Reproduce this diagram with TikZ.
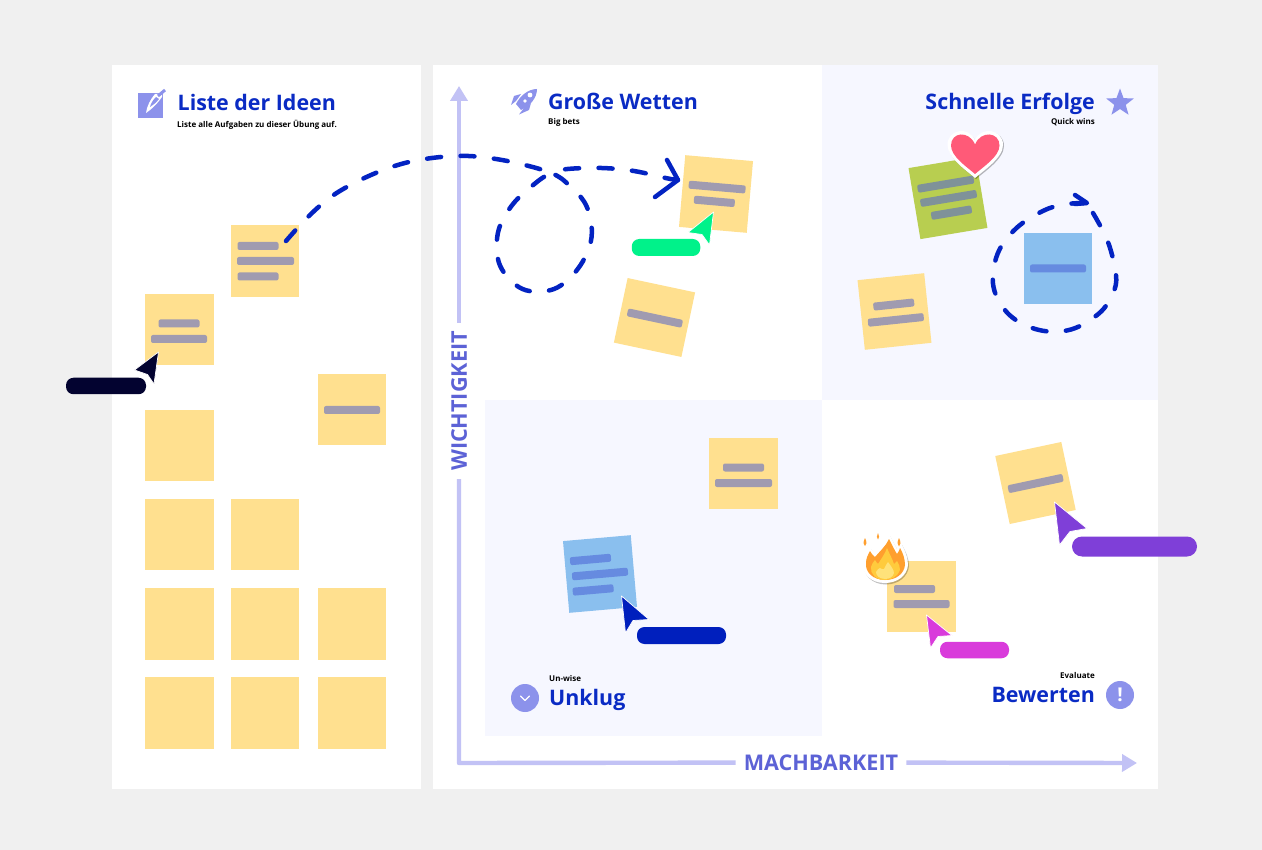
\documentclass[tikz,border=0pt]{standalone}
\usepackage{fontspec}
\setmainfont{Open Sans}
\usetikzlibrary{arrows.meta,shapes.geometric}
\definecolor{pagebg}{HTML}{F0F0F0}
\definecolor{quad}{HTML}{F6F7FF}
\definecolor{ttl}{HTML}{0A2BC4}
\definecolor{flow}{HTML}{0323C2}
\definecolor{yel}{HTML}{FFE08F}
\definecolor{yelbar}{HTML}{A09BB0}
\definecolor{sky}{HTML}{8ABFEE}
\definecolor{skybar}{HTML}{668BE0}
\definecolor{olive}{HTML}{B8CE50}
\definecolor{olivebar}{HTML}{7F9299}
\definecolor{icon}{HTML}{8C92EB}
\definecolor{axisl}{HTML}{C2C2F5}
\definecolor{axist}{HTML}{5C62D6}
\definecolor{cnavy}{HTML}{030330}
\definecolor{cgreen}{HTML}{00F28A}
\definecolor{cblue}{HTML}{001FBD}
\definecolor{cmag}{HTML}{D93BDB}
\definecolor{cpur}{HTML}{7F3FD8}
\definecolor{HeartRed}{HTML}{FF5A78}
\definecolor{FireOrange}{HTML}{FF9F2E}
\definecolor{FireYellow}{HTML}{FFCB3D}
\definecolor{FirePale}{HTML}{FFE27A}
\tikzset{
  panel/.style={fill=white,draw=none},
  stickybox/.style={draw=none,inner sep=0pt,transform shape},
  barbox/.style={draw=none,inner sep=0pt,rounded corners=2pt,minimum height=8pt,transform shape},
  pill/.style={draw=none,inner sep=0pt,rounded corners=7.5pt},
  heading/.style={font=\fontsize{21.4}{26}\selectfont\bfseries,text=ttl,inner sep=0pt},
  sub/.style={font=\fontsize{8}{10}\selectfont\bfseries,text=black,inner sep=0pt},
  axisline/.style={draw=axisl,line width=4.4pt,line join=round},
  axislabel/.style={font=\fontsize{21.6}{26}\selectfont\bfseries,text=axist,inner sep=8pt,text depth=0pt},
  flowline/.style={draw=flow,line width=4.5pt,line cap=round,line join=round,dash pattern=on 14pt off 19.5pt},
  flowtip/.style={draw=flow,line width=4.5pt,line cap=round,line join=round},
  cursor/.style={draw=white,line width=0.7pt,line join=round}
}
% name, cx, cy, w, h, angle, fill, bar colour, bars dx/dy/len
\newcommand\stickynote[9]{%
  \begin{scope}[shift={(#2,#3)},rotate=#6]
    \node[stickybox,fill=#7,minimum width=#4pt,minimum height=#5pt] (#1) at (0,0) {};
    \foreach \dx/\dy/\blen [count=\bi] in {#9}{
      \node[barbox,fill=#8,minimum width=\blen pt] (#1-bar\bi) at (\dx,\dy) {};
    }
  \end{scope}}
\newcommand\plainnote[3]{%
  \node[stickybox,fill=yel,minimum width=68.5pt,minimum height=71.5pt] (#1) at (#2,#3) {};}
\begin{document}
\begin{tikzpicture}[x=1pt,y=-1pt]
\useasboundingbox (0,0) rectangle (1262,850);
\fill[pagebg] (0,0) rectangle (1262,850);
% panels
\fill[panel] (112,65) rectangle (421,789);
\fill[panel] (433,65) rectangle (1158,789);
\fill[quad] (822,65) rectangle (1158,400);
\fill[quad] (485,400) rectangle (822,736);

% left column
\stickynote{n1}{179.5}{329.5}{68.5}{71.5}{0}{yel}{yelbar}{-0.5/-6/41,-0.5/9.5/56}
\stickynote{n2}{265}{261}{68}{71.5}{0}{yel}{yelbar}{-7/-15/41,0.5/0/57,-7/15.5/41}
\stickynote{n3}{352}{409.5}{68}{71.5}{0}{yel}{yelbar}{0/0.5/56}
\plainnote{n4}{179.5}{445.5}
\plainnote{n5}{179.5}{534.5}
\plainnote{n6}{265}{534.5}
\plainnote{n7}{179.5}{624}
\plainnote{n8}{265}{624}
\plainnote{n9}{352}{624}
\plainnote{n10}{179.5}{713}
\plainnote{n11}{265}{713}
\plainnote{n12}{352}{713}
% quadrants
\stickynote{b1}{716}{194}{68}{72}{-5}{yel}{yelbar}{0.5/-7/57,-1/7.5/41}
\stickynote{b2}{654.5}{317.5}{69}{66}{-12}{yel}{yelbar}{0.5/0.5/56}
\stickynote{q1}{948}{198}{68}{72}{9.5}{olive}{olivebar}{0/-14/57,0.5/0.5/57,1/15/41}
\stickynote{q2}{894.5}{311.5}{67}{70}{6}{yel}{yelbar}{0/-7/41,0.5/8.5/56}
\stickynote{q3}{1058}{268.5}{68}{71.5}{0}{sky}{skybar}{0/0/56}
\stickynote{u1}{743.5}{473.5}{68.5}{71.5}{0}{yel}{yelbar}{0/-6/41,0/9.5/57}
\stickynote{u2}{600}{574}{68}{72}{5}{sky}{skybar}{-8.2/-15.3/41,0/0/56,-8.2/15.3/41}
\stickynote{e1}{1035.5}{483}{67.5}{69.5}{12}{yel}{yelbar}{0/0.5/56}
\stickynote{e2}{921.5}{596.5}{68.5}{71.5}{0}{yel}{yelbar}{-7/-7.5/41,0/7.5/56}

% axes
\coordinate (origin) at (459,763);
\coordinate (ytip) at (459,86);
\coordinate (xtip) at (1137,763);
\node[axislabel,rotate=90] (ylabel) at (459,401) {WICHTIGKEIT};
\node[axislabel] (xlabel) at (821,762.5) {MACHBARKEIT};
\draw[axisline] (ylabel) -- (origin) -- (xlabel);
\draw[axisline,-{Triangle[length=15pt,width=17pt]}] (ylabel) -- (ytip);
\draw[axisline,-{Triangle[length=15pt,width=17pt]}] (xlabel) -- (xtip);

% titles
\node[heading,anchor=base west] (t1) at (177.5,111) {Liste der Ideen};
\node[sub,anchor=base west] (s1) at (177,127.5) {Liste alle Aufgaben zu dieser Übung auf.};
\node[heading,anchor=base west] (t2) at (548,110) {Große Wetten};
\node[sub,anchor=base west] (s2) at (548,125) {Big bets};
\node[heading,anchor=base east] (t3) at (1095,110) {Schnelle Erfolge};
\node[sub,anchor=base east] (s3) at (1095,125) {Quick wins};
\node[heading,anchor=base west] (t4) at (549,705.5) {Unklug};
\node[sub,anchor=base west] (s4) at (549,681) {Un-wise};
\node[heading,anchor=base east] (t5) at (1095,702) {Bewerten};
\node[sub,anchor=base east] (s5) at (1095,678) {Evaluate};

% icons
\fill[icon] (138,93) rectangle (162.5,118);
\fill[white] (146,113) .. controls (147,106) and (150,100) .. (155,94) -- (162,94) -- (162,97) .. controls (157,104) and (152,109) .. cycle;
\fill[icon] (150,107) .. controls (151,103) and (153,100) .. (156,97) -- (159,99) .. controls (156,103) and (153,105) .. cycle;
\draw[icon,line width=3pt] (158,96) -- (165,90);
\fill[icon] (537,89) .. controls (528,89) and (520,96) .. (516,104) -- (521,110) .. controls (530,106) and (537,98) .. cycle;
\fill[icon] (521,94) -- (514,96) -- (511,105) -- (516,101) -- cycle;
\fill[icon] (531,103) -- (529,110) -- (519,114.5) -- (524,108) -- cycle;
\fill[white] (530,95) circle (2.4pt) (525,101) circle (1.8pt);
\node[star,star points=5,star point ratio=2.4,fill=icon,inner sep=0pt,minimum size=29pt] (staricon) at (1120,103) {};
\node[circle,fill=icon,inner sep=0pt,minimum size=28pt] (downicon) at (525,698) {};
\draw[white,line width=1.2pt,line cap=round,line join=round] (520.5,696) -- (525,700.5) -- (529.5,696);
\node[circle,fill=icon,inner sep=0pt,minimum size=28pt,text=white,font=\fontsize{19}{20}\selectfont\bfseries] (alerticon) at (1120,695) {!};

% flow 1
\coordinate (f1start) at (286,241);
\coordinate (f1cross) at (551,173);
\coordinate (f1end) at (678,180);
\draw[flowline] plot[smooth,tension=0.6] coordinates {(f1start) (303,222) (322,204) (341.5,190) (371,175) (403,163.5) (436,157.5) (468.5,156) (502,160) (534.5,167.5) (f1cross)}
  -- plot[smooth,tension=0.6] coordinates {(f1cross) (537.5,181.5) (513,204) (498,232.5) (500,265.5) (522.5,289) (554,289) (578.5,268) (591.5,237.5) (586,205) (564.5,181) (f1cross)}
  -- plot[smooth,tension=0.6] coordinates {(f1cross) (567.5,169) (601.5,168) (634,171) (668,178.5) (f1end)};
\draw[flowtip] (667,160) -- (f1end) -- (655,197);
% flow 2
\coordinate (f2start) at (1093,213);
\coordinate (f2end) at (1087,203);
\draw[flowline] plot[smooth,tension=0.6] coordinates {(f2start) (1108,242) (1116,275) (1113,293) (1099.5,313) (1071,329.5) (1039,330) (1009.5,315) (993.5,287) (997.5,254) (1016.5,228) (1045,210) (1068,204) (f2end)};
\draw[flowtip] (1075,195) -- (f2end) -- (1075,204);

% stickers
\path[fill=black,opacity=.28] (976,179) .. controls (968,172) and (948.5,159) .. (948.5,146) .. controls (948.5,130) and (970,127) .. (976,142) .. controls (982,127) and (1004,130) .. (1004,146) .. controls (1004,159) and (984,172) .. cycle;
\path[fill=white] (975,178) .. controls (967,171) and (947.5,158) .. (947.5,145) .. controls (947.5,129) and (969,126) .. (975,140) .. controls (981,126) and (1003,129) .. (1003,145) .. controls (1003,158) and (983,171) .. cycle;
\path[fill=HeartRed] (975,174) .. controls (967,167) and (951,156.5) .. (951,145.5) .. controls (951,132) and (969,130) .. (975,144.5) .. controls (981,130) and (999.5,132) .. (999.5,145.5) .. controls (999.5,156.5) and (983,167) .. cycle;
% fire
\path[fill=black,opacity=.25] (886,584.5) .. controls (872,584.5) and (863,575) .. (864,564) .. controls (864,556) and (868,552) .. (870,548) .. controls (873,551) and (873,553) .. (875,554) .. controls (880,549) and (887,543) .. (890,536) .. controls (893,542) and (897,549) .. (898,551) .. controls (899,549) and (901,547) .. (902,545) .. controls (906,552) and (909,559) .. (909,566) .. controls (908,577) and (898,584.5) .. cycle;
\path[fill=white] (885,583) .. controls (871,583) and (862,574) .. (863,563) .. controls (863,555) and (867,551) .. (869,546) .. controls (872,549) and (872,551) .. (874,552) .. controls (879,547) and (886,541) .. (889,533) .. controls (892,540) and (896,547) .. (897,549) .. controls (898,547) and (900,545) .. (901,543) .. controls (905,550) and (908,558) .. (908,565) .. controls (907,576) and (897,583) .. cycle;
\path[fill=white] (865,536) .. controls (862,541) and (861,545) .. (865,547) .. controls (869,545) and (868,540) .. cycle;
\path[fill=white] (878,530) .. controls (875,535) and (875,539) .. (878,541) .. controls (882,539) and (881,534) .. cycle;
\path[fill=white] (899,536) .. controls (895,541) and (895,546) .. (899,548) .. controls (903,546) and (902,541) .. cycle;
\path[fill=FireOrange] (885,580) .. controls (873,580) and (865,572) .. (866,563) .. controls (866,558) and (868,555) .. (870,551) .. controls (872,554) and (873,556) .. (875,557) .. controls (880,551) and (886,546) .. (889,539) .. controls (892,545) and (895,551) .. (897,554) .. controls (898,552) and (900,550) .. (900,548) .. controls (903,553) and (905,559) .. (905,565) .. controls (904,574) and (896,580) .. cycle;
\path[fill=FireYellow] (885,580) .. controls (876,580) and (870,574) .. (871,567) .. controls (872,564) and (873,562) .. (875,560) .. controls (876,562) and (877,563) .. (878,564) .. controls (881,559) and (885,554) .. (887,548) .. controls (889,553) and (892,558) .. (894,564) .. controls (895,563) and (896,562) .. (897,561) .. controls (899,564) and (900,567) .. (900,570) .. controls (898,576) and (892,580) .. cycle;
\path[fill=FirePale] (885,579) .. controls (879,579) and (876,575) .. (876,572) .. controls (877,570) and (879,568) .. (880,568) .. controls (882,569) and (883,570) .. (884,569) .. controls (885,566) and (887,564) .. (888,562) .. controls (891,566) and (894,570) .. (894,573) .. controls (893,577) and (889,579) .. cycle;
\path[fill=FireOrange] (865,538) .. controls (863,542) and (863,545) .. (865,546) .. controls (867,545) and (867,542) .. cycle;
\path[fill=FireOrange] (878,533) .. controls (877,536) and (876,538) .. (878,539.5) .. controls (880,538) and (879,536) .. cycle;
\path[fill=FireOrange] (899,538) .. controls (897,542) and (897,545) .. (899,546.5) .. controls (901,545) and (901,542) .. cycle;

% pills and cursors
\node[pill,fill=cnavy,minimum width=80pt,minimum height=16.5pt] (p1) at (106,386) {};
\draw[cursor,fill=cnavy] (158.5,352) -- (134.5,370) -- (147.5,374.5) -- (154,384) -- cycle;
\node[pill,fill=cgreen,minimum width=68.5pt,minimum height=17pt] (p2) at (666,247.5) {};
\draw[cursor,fill=cgreen] (713.5,212) -- (688,232.5) -- (702,234.5) -- (709.5,245) -- cycle;
\node[pill,fill=cblue,minimum width=89pt,minimum height=17pt] (p3) at (681.5,635.5) {};
\draw[cursor,fill=cblue] (621.5,596) -- (649,619.5) -- (633,620.5) -- (625.5,633) -- cycle;
\node[pill,fill=cmag,minimum width=69pt,minimum height=16.5pt] (p4) at (974.5,650) {};
\draw[cursor,fill=cmag] (926.5,615) -- (952,635.5) -- (938,636.5) -- (930.5,648) -- cycle;
\node[pill,fill=cpur,minimum width=125pt,minimum height=20pt,rounded corners=10pt] (p5) at (1134.5,546.5) {};
\draw[cursor,fill=cpur] (1054.5,502) -- (1087,528.5) -- (1070,531.5) -- (1059.5,545) -- cycle;
\end{tikzpicture}
\end{document}
